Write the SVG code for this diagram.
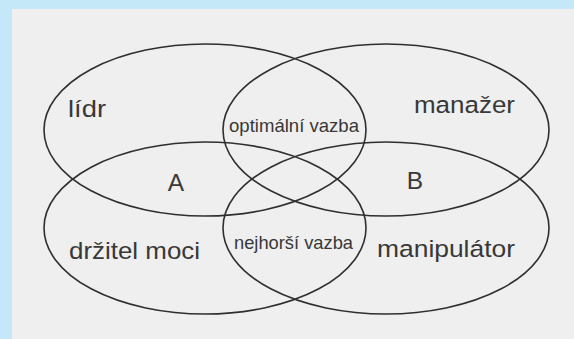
<svg xmlns="http://www.w3.org/2000/svg" width="574" height="339" viewBox="0 0 574 339">
  <style>
    .ring { fill: none; stroke: #2f2f2f; stroke-width: 1.6; }
    .big { font-family: "Liberation Sans", Arial, sans-serif; font-size: 24.5px; fill: #383838; }
    .small { font-family: "Liberation Sans", Arial, sans-serif; font-size: 18.5px; fill: #383838; }
  </style>
  <rect x="0" y="0" width="574" height="339" fill="#c5e8f8"/>
  <rect x="12" y="9" width="562" height="330" fill="#efefef"/>

  <g id="lidr">
    <ellipse class="ring" cx="205" cy="130" rx="161" ry="86"/>
    <text class="big" x="68" y="117" textLength="38" lengthAdjust="spacingAndGlyphs">lídr</text>
  </g>
  <g id="manazer">
    <ellipse class="ring" cx="386" cy="130" rx="163" ry="86"/>
    <text class="big" x="414" y="113" textLength="101" lengthAdjust="spacingAndGlyphs">manažer</text>
  </g>
  <g id="drzitel-moci">
    <ellipse class="ring" cx="205" cy="228" rx="161" ry="86"/>
    <text class="big" x="69" y="259" textLength="131" lengthAdjust="spacingAndGlyphs">držitel moci</text>
  </g>
  <g id="manipulator">
    <ellipse class="ring" cx="386" cy="228" rx="163" ry="86"/>
    <text class="big" x="377" y="257" textLength="138" lengthAdjust="spacingAndGlyphs">manipulátor</text>
  </g>
  <g id="A">
    <text class="big" x="176" y="191" text-anchor="middle">A</text>
  </g>
  <g id="B">
    <text class="big" x="415" y="189" text-anchor="middle">B</text>
  </g>
  <g id="optimalni-vazba">
    <text class="small" x="229" y="132" textLength="130" lengthAdjust="spacingAndGlyphs">optimální vazba</text>
  </g>
  <g id="nejhorsi-vazba">
    <text class="small" x="234" y="249" textLength="119" lengthAdjust="spacingAndGlyphs">nejhorší vazba</text>
  </g>
  <g id="connectors"/>
</svg>
